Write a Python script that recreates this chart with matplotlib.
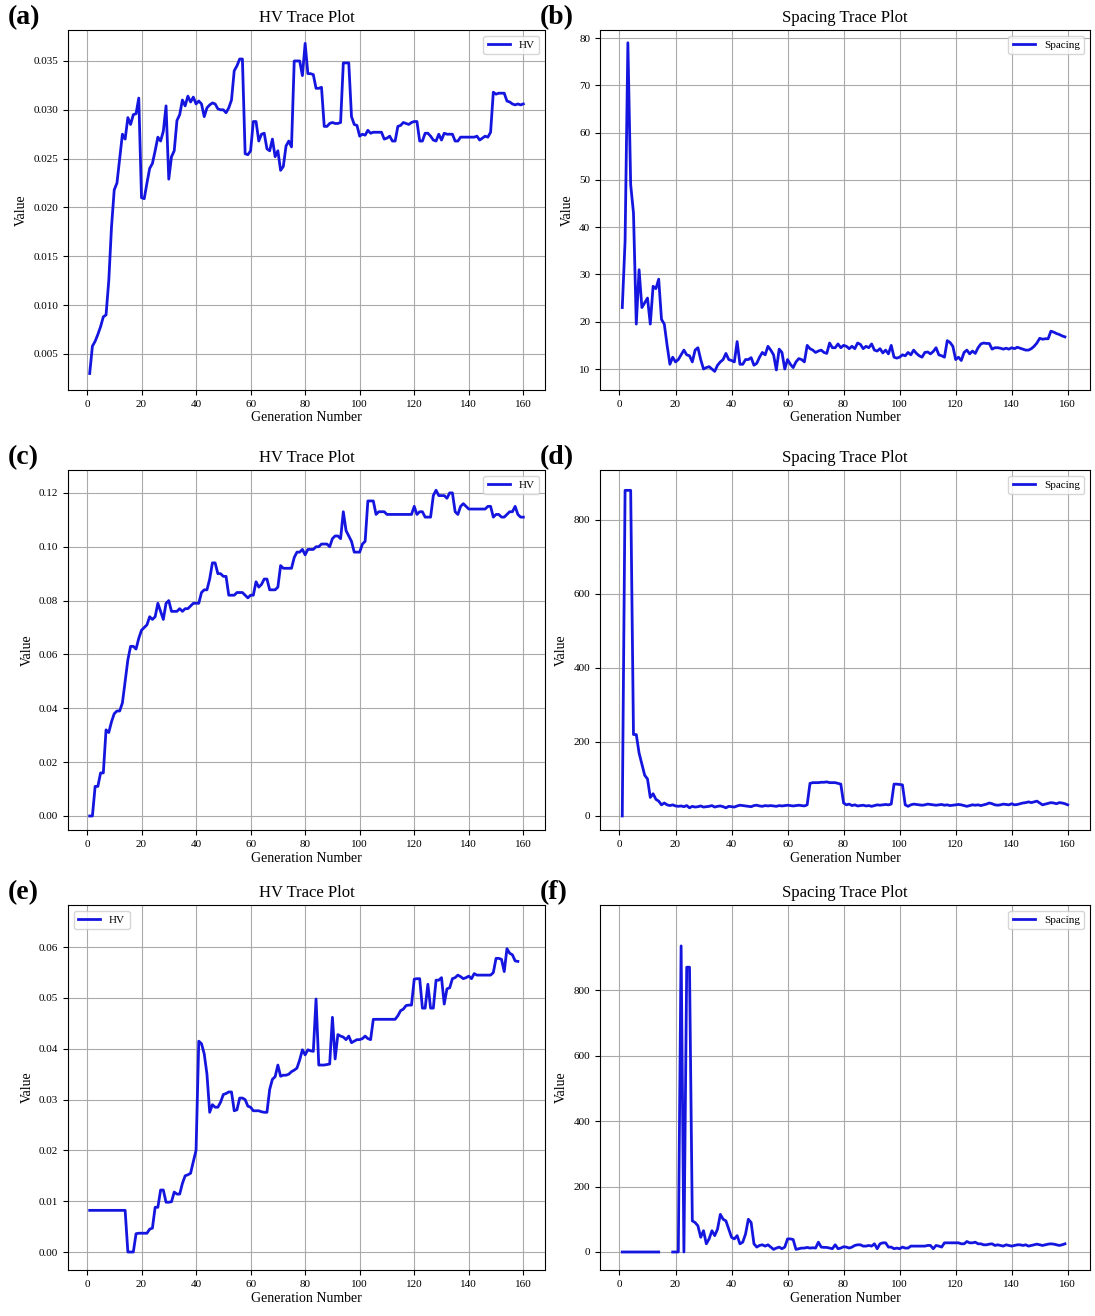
import numpy as np
import matplotlib
matplotlib.use('Agg')
import matplotlib.pyplot as plt

plt.rcParams['font.family'] = ['Liberation Serif', 'DejaVu Serif']

# (a) HV
hv_a = [0.003, 0.0058, 0.0063, 0.007, 0.0078, 0.0088, 0.009, 0.0125, 0.018, 0.0218,
        0.0225, 0.025, 0.0275, 0.027, 0.0292, 0.0285, 0.0295, 0.0296, 0.0312, 0.021,
        0.0209, 0.0225, 0.024, 0.0245, 0.0258, 0.0272, 0.0268, 0.0278, 0.0304, 0.0229,
        0.0252, 0.0258, 0.0289, 0.0295, 0.031, 0.0304, 0.0314, 0.0308, 0.0313, 0.0306,
        0.0309, 0.0306, 0.0293, 0.0302, 0.0305, 0.0307, 0.0306, 0.0301, 0.03, 0.03,
        0.0297, 0.0302, 0.031, 0.034, 0.0345, 0.0352, 0.0352, 0.0255, 0.0254, 0.0258,
        0.0288, 0.0288, 0.0268, 0.0275, 0.0276, 0.026, 0.0258, 0.027, 0.0252, 0.0258,
        0.0238, 0.0242, 0.0263, 0.0268, 0.0262, 0.035, 0.035, 0.035, 0.0335, 0.0368,
        0.0337, 0.0337, 0.0336, 0.0322, 0.0322, 0.0323, 0.0283, 0.0283, 0.0286, 0.0287,
        0.0286, 0.0286, 0.0287, 0.0348, 0.0348, 0.0348, 0.0293, 0.0285, 0.0284, 0.0273,
        0.0275, 0.0274, 0.0279, 0.0276, 0.0277, 0.0277, 0.0277, 0.0277, 0.027, 0.0271,
        0.0273, 0.0268, 0.0268, 0.0283, 0.0284, 0.0287, 0.0286, 0.0285, 0.0287, 0.0288,
        0.0288, 0.0268, 0.0268, 0.0276, 0.0276, 0.0273, 0.0269, 0.0268, 0.0275, 0.0269,
        0.0276, 0.0275, 0.0275, 0.0275, 0.0268, 0.0268, 0.0272, 0.0272, 0.0272, 0.0272,
        0.0272, 0.0272, 0.0273, 0.0269, 0.0271, 0.0273, 0.0272, 0.0277, 0.0318, 0.0316,
        0.0317, 0.0317, 0.0317, 0.0309, 0.0308, 0.0306, 0.0305, 0.0306, 0.0305, 0.0306]

# (b) Spacing
sp_b = [23, 37, 79, 49, 43, 19.5, 31, 23, 24, 25, 19.5, 27.5, 27, 29, 20.5, 19.5, 15, 11,
        12.5, 11.5, 12, 13, 14, 13, 12.8, 11.5, 14, 14.5, 12, 10, 10.3, 10.5, 10, 9.5, 10.8,
        11.5, 12, 13.3, 12, 11.8, 11.5, 15.8, 11, 11, 12, 12, 12.4, 10.8, 11.2, 12.5, 13.5,
        13, 14.8, 14, 13, 9.8, 14.2, 13.5, 10, 12, 11, 10.3, 11.5, 12.2, 12, 11.5, 15, 14.3,
        14, 13.5, 13.8, 14, 13.5, 13.3, 15.5, 14.5, 14.5, 15.3, 14.5, 15, 14.8, 14.3, 14.8,
        14.3, 15.5, 15.2, 14.3, 14.8, 14.5, 15.3, 14, 13.8, 14.3, 13.4, 14, 13.2, 15, 12.5,
        12.3, 12.5, 13, 12.8, 13.5, 13, 14, 13.3, 12.8, 12.5, 13.5, 13.6, 13.2, 13.7, 14.5,
        13, 12.8, 12.5, 16, 15.6, 14.8, 12, 12.5, 11.8, 13.5, 14, 13.2, 13.8, 13.3, 14.5,
        15.3, 15.5, 15.4, 15.4, 14.2, 14.5, 14.5, 14.4, 14.2, 14.4, 14.2, 14.5, 14.3, 14.6,
        14.4, 14.2, 14, 14, 14.3, 14.8, 15.5, 16.5, 16.3, 16.4, 16.4, 18, 17.8, 17.5, 17.3,
        17.0, 16.8]

# (c) HV
hv_c = ([0, 0, 0.011, 0.011, 0.016, 0.016, 0.032, 0.031, 0.035, 0.038, 0.039, 0.039,
         0.042, 0.05, 0.058, 0.063, 0.063, 0.062, 0.066, 0.069, 0.07, 0.071, 0.074, 0.073,
         0.074, 0.079, 0.076, 0.073, 0.079, 0.080, 0.076, 0.076, 0.076, 0.077, 0.076,
         0.077, 0.077, 0.078, 0.079, 0.079, 0.079, 0.083, 0.084, 0.084, 0.088, 0.094,
         0.094, 0.090, 0.090, 0.089, 0.089, 0.082, 0.082, 0.082, 0.083, 0.083, 0.083,
         0.082, 0.081, 0.082, 0.082, 0.087, 0.085, 0.086, 0.088, 0.088, 0.084, 0.084,
         0.084, 0.085, 0.093, 0.092, 0.092, 0.092, 0.092, 0.096, 0.098, 0.098, 0.099,
         0.097, 0.099, 0.099, 0.099, 0.100, 0.100, 0.101, 0.101, 0.101, 0.100, 0.103,
         0.104, 0.104, 0.103, 0.113, 0.106, 0.104, 0.102, 0.098, 0.098, 0.098, 0.101,
         0.102, 0.117, 0.117, 0.117, 0.112, 0.113, 0.113, 0.113]
        + [0.112] * 10
        + [0.115, 0.112, 0.113, 0.113, 0.111, 0.111, 0.111, 0.119, 0.121, 0.119, 0.119,
           0.119, 0.118, 0.120, 0.120, 0.113, 0.112, 0.115, 0.116, 0.115]
        + [0.114] * 7
        + [0.115, 0.115, 0.111, 0.112, 0.112, 0.111, 0.111, 0.112, 0.113, 0.113, 0.115,
           0.112, 0.111, 0.111])

# (d) Spacing
sp_d = ([0, 880, 880, 880, 220, 220, 170, 140, 110, 100, 50, 60, 45, 40, 30, 35, 30, 28,
         30, 27, 26, 27, 25, 28, 22, 26, 24, 25, 27, 24, 25, 26, 28, 24, 26, 27, 25, 22, 26,
         25, 24, 27, 29, 28, 27, 26, 25, 28, 29, 27, 26, 28, 27, 28, 27, 26, 28, 27, 28,
         29, 28, 27, 28, 29, 28, 27, 30]
        + [88, 90, 90, 90, 91, 91, 92, 90, 90, 90, 88, 86]
        + [35, 30, 32, 28, 30, 27, 28, 29, 27, 28, 26, 28, 30, 29, 30, 31, 30, 32]
        + [86, 86, 85, 84]
        + [30, 26, 30, 32, 31, 30, 29, 30, 32, 31, 30, 29, 30, 31, 29, 30, 28, 29, 30, 31,
           30, 28, 26, 28, 30, 29, 30, 28, 30, 32, 35, 33, 30, 29, 30, 32, 31, 30, 33, 30,
           31, 33, 35, 36, 38, 36, 38, 40, 35, 30, 32, 34, 36, 35, 33, 36, 35, 33, 30])

# (e) HV
hv_e = ([0.0082] * 14 + [0, 0, 0]
        + [0.0036, 0.0037, 0.0037, 0.0037, 0.0037, 0.0045, 0.0047, 0.0088, 0.0088, 0.0122,
           0.0122, 0.0098, 0.0098, 0.0099, 0.0118, 0.0114, 0.0114, 0.0135, 0.015, 0.0152,
           0.0155, 0.0178, 0.02, 0.0415, 0.041, 0.039, 0.035, 0.0275, 0.029, 0.0285,
           0.0285, 0.0295, 0.031, 0.0312, 0.0315, 0.0315, 0.0278, 0.028, 0.0303, 0.0303,
           0.03, 0.0287, 0.0285, 0.0278, 0.0278, 0.0278, 0.0276, 0.0275, 0.0275, 0.032,
           0.034, 0.0345, 0.0368, 0.0346, 0.0348, 0.0348, 0.035, 0.0355, 0.0358, 0.0362,
           0.0378, 0.0398, 0.0388, 0.0398, 0.0396, 0.0395, 0.0498, 0.0368, 0.0368, 0.0368,
           0.0369, 0.037, 0.0462, 0.038, 0.0428, 0.0425, 0.0423, 0.0418, 0.0425, 0.0412,
           0.0415, 0.0418, 0.0418, 0.042, 0.0425, 0.042, 0.0418]
        + [0.0458] * 9
        + [0.0465, 0.0475, 0.0478, 0.0485, 0.0486, 0.0486, 0.0537, 0.0538, 0.0538, 0.048,
           0.048, 0.0527, 0.048, 0.048, 0.0535, 0.0535, 0.054, 0.0488, 0.0518, 0.052,
           0.0538, 0.054, 0.0545, 0.0542, 0.0538, 0.054, 0.0543, 0.0538, 0.0548, 0.0545]
        + [0.0545] * 5
        + [0.055, 0.0578, 0.0578, 0.0576, 0.0552, 0.0597, 0.0588, 0.0585, 0.0573, 0.0572])

# (f) Spacing (gap = missing generations)
sp_f = ([0] * 14 + [np.nan] * 4 + [0, 0, 0, 935, 0, 870, 870]
        + [95, 90, 80, 45, 65, 25, 40, 65, 50, 70, 115, 100, 95, 70, 45, 40, 50, 25, 30,
           55, 100, 90, 25, 15, 20, 22, 18, 22, 15, 8, 12, 15, 10, 15, 40, 40, 38, 8, 10,
           12, 12, 14, 12, 13, 12, 30, 15, 14, 14, 12, 10, 22, 10, 12, 16, 15, 12, 15, 20,
           22, 22, 18, 18, 20, 18, 25, 10, 25, 28, 28, 15, 15, 10, 12, 10, 15, 12, 12, 18,
           18, 18, 18, 18, 18, 20, 20, 10, 20, 18, 15, 28, 28, 28, 28, 28, 28, 25, 25, 32,
           28, 28, 30, 25, 25, 22, 22, 24, 25, 20, 22, 20, 18, 22, 20, 18, 20, 22, 22, 20,
           22, 18, 20, 22, 24, 22, 20, 22, 24, 25, 24, 22, 20, 22, 25])

panels = [
    ('(a)', 'HV Trace Plot', 'HV', hv_a, 'upper right',
     [0.005, 0.010, 0.015, 0.020, 0.025, 0.030, 0.035], '%.3f', (0.00131, 0.03817)),
    ('(b)', 'Spacing Trace Plot', 'Spacing', sp_b, 'upper right',
     [10, 20, 30, 40, 50, 60, 70, 80], '%d', (5.56, 81.7)),
    ('(c)', 'HV Trace Plot', 'HV', hv_c, 'upper right',
     [0.0, 0.02, 0.04, 0.06, 0.08, 0.10, 0.12], '%.2f', (-0.0052, 0.1285)),
    ('(d)', 'Spacing Trace Plot', 'Spacing', sp_d, 'upper right',
     [0, 200, 400, 600, 800], '%d', (-38, 935)),
    ('(e)', 'HV Trace Plot', 'HV', hv_e, 'upper left',
     [0.00, 0.01, 0.02, 0.03, 0.04, 0.05, 0.06], '%.2f', (-0.00354, 0.0683)),
    ('(f)', 'Spacing Trace Plot', 'Spacing', sp_f, 'upper right',
     [0, 200, 400, 600, 800], '%d', (-55, 1060)),
]

fig = plt.figure(figsize=(10.95, 13.16), dpi=100, facecolor='white')
W, H = 1095.0, 1316.0
boxes = [(68, 30, 545, 390), (600, 30, 1090, 390),
         (68, 470, 545, 830), (600, 470, 1090, 830),
         (68, 905, 545, 1270), (600, 905, 1090, 1270)]

for (tag, title, lab, y, loc, yt, fmt, ylim), (x0, y0, x1, y1) in zip(panels, boxes):
    ax = fig.add_axes([x0 / W, 1 - y1 / H, (x1 - x0) / W, (y1 - y0) / H])
    y = y[:160]
    gens = np.arange(1, len(y) + 1)
    ax.plot(gens, y, color='#1515e0', lw=2, label=lab)
    ax.set_xlim(-6.95, 167.95)
    ax.set_ylim(*ylim)
    ax.set_title(title, fontsize=12)
    ax.set_xlabel('Generation Number', fontsize=10, labelpad=2)
    ax.set_ylabel('Value', fontsize=10)
    ax.set_xticks(range(0, 161, 20))
    ax.set_yticks(yt)
    ax.set_yticklabels([fmt % v for v in yt])
    ax.tick_params(labelsize=8)
    ax.grid(True, color='#aaaaaa', lw=0.8)
    ax.legend(loc=loc, fontsize=8)
    fig.text(x0 / W - 0.055, 1 - (y0 - 12) / H, tag, fontsize=20, fontweight='bold',
             va='center')

fig.savefig('out.png', dpi=100)
